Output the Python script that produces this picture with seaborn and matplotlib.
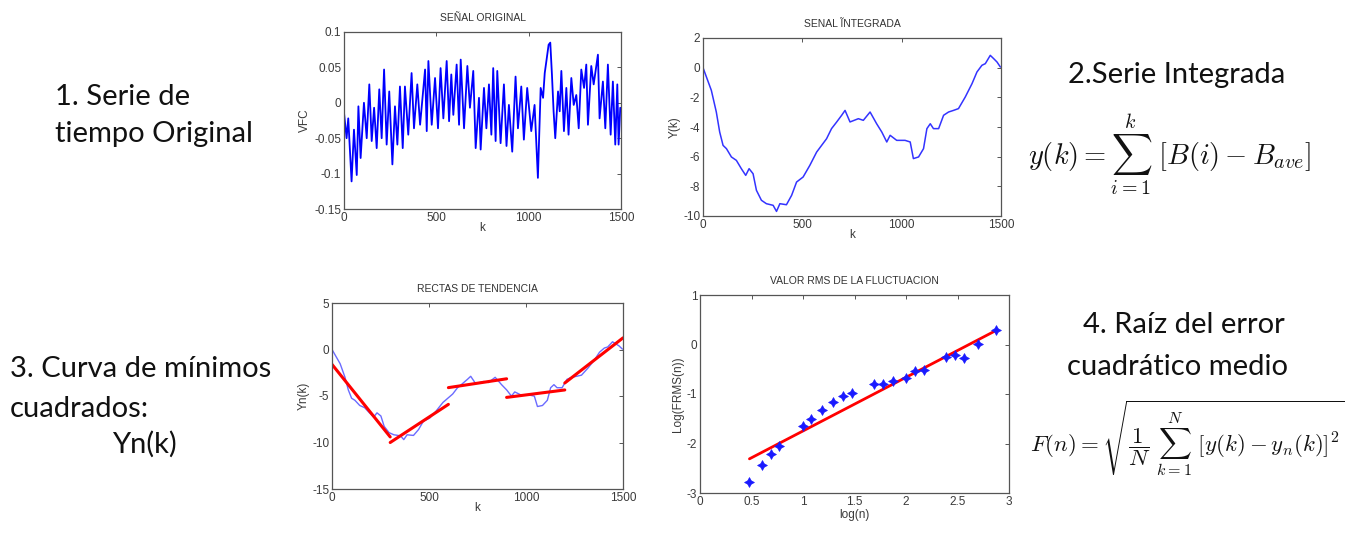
import numpy as np
import pandas as pd
import matplotlib
matplotlib.use("Agg")
import matplotlib.pyplot as plt
import seaborn as sns
from matplotlib.ticker import FuncFormatter

# ---------------- data ----------------
k_orig = [0, 14, 23, 41, 54, 69, 78, 90, 108, 123, 137, 150, 163, 177, 191, 204, 217, 231, 245, 262,
          276, 289, 303, 318, 330, 348, 366, 379, 397, 412, 439, 448, 457, 475, 493,
          509, 523, 538, 556, 569, 581, 592, 610, 623, 632, 650, 668, 682, 700, 713, 731, 740, 758,
          771, 785, 798, 808, 821, 830, 848, 866, 880, 893, 911, 929, 942, 960, 974, 992,
          1014, 1032, 1050, 1065, 1078, 1087, 1096, 1108, 1117, 1126, 1135, 1144, 1159, 1168, 1177,
          1191, 1204, 1216, 1231, 1244, 1258, 1271, 1285, 1300, 1312, 1321, 1339, 1352, 1375, 1384,
          1402, 1415, 1429, 1444, 1456, 1469, 1480, 1487, 1496]
vfc = [-0.014, -0.050, -0.022, -0.111, -0.038, -0.102, -0.005, -0.078, 0.000, -0.050, 0.026, -0.054,
       -0.007, -0.064, 0.019, -0.050, 0.047, -0.059, 0.016, -0.087, -0.005, -0.059, 0.023, -0.064,
       0.023, -0.045, 0.042, -0.036, 0.026, -0.031, 0.047, -0.040, 0.059, -0.031, 0.035,
       -0.036, 0.049, -0.022, 0.059, -0.026, 0.040, -0.017, 0.054, -0.031, 0.061, -0.036, 0.052,
       -0.007, 0.045, -0.064, 0.007, -0.066, 0.021, -0.036, 0.026, -0.045, 0.049, -0.054, 0.045,
       -0.057, 0.026, -0.061, -0.003, -0.069, 0.037, -0.036, 0.023, -0.052, 0.021,
       -0.040, -0.003, -0.106, 0.021, 0.007, 0.042, 0.059, 0.082, 0.085, 0.040, -0.012, -0.050,
       0.016, -0.012, 0.045, -0.040, 0.021, -0.045, 0.035, -0.003, 0.011, -0.036, 0.047, 0.021,
       0.054, -0.031, 0.052, 0.026, 0.068, -0.022, 0.030, -0.036, 0.054, -0.045, 0.030, -0.059,
       0.026, -0.059, -0.007]

k_int = [0, 42, 67, 84, 101, 118, 143, 168, 193, 215, 232, 252, 269, 294, 319, 353, 370, 387, 420,
         446, 471, 504, 538, 572, 622, 647, 673, 698, 715, 740, 782, 807, 841, 874, 900, 925, 942,
         975, 1017, 1043, 1059, 1085, 1110, 1127, 1144, 1160, 1186, 1211, 1236, 1261, 1286, 1320,
         1354, 1379, 1404, 1421, 1446, 1463, 1480, 1497]
y_int = [0.00, -1.53, -2.99, -4.34, -5.24, -5.46, -6.02, -6.25, -6.81, -7.26, -6.81, -7.15, -8.27,
         -8.94, -9.17, -9.28, -9.69, -9.17, -9.24, -8.61, -7.71, -7.37, -6.58, -5.69, -4.79, -4.11,
         -3.66, -3.21, -2.88, -3.66, -3.44, -3.55, -2.99, -3.78, -4.34, -5.01, -4.56, -4.90, -4.90,
         -5.01, -6.13, -6.02, -5.46, -4.11, -3.78, -4.11, -4.11, -3.21, -2.99, -2.88, -2.76, -1.98,
         -1.08, -0.29, 0.16, 0.27, 0.83, 0.61, 0.38, 0.04]

seg_k_start = [0, 300, 600, 900, 1200]
seg_k_end = [300, 600, 900, 1200, 1500]
seg_y_start = [-1.6, -10.0, -4.1, -5.15, -3.6]
seg_y_end = [-9.4, -5.9, -3.15, -4.35, 1.25]

log_n = [0.475, 0.598, 0.689, 0.770, 0.996, 1.073, 1.180, 1.293, 1.384, 1.471, 1.691, 1.778,
         1.875, 1.998, 2.085, 2.176, 2.386, 2.473, 2.564, 2.700, 2.878]
log_frms = [-2.77, -2.43, -2.21, -2.05, -1.64, -1.51, -1.32, -1.17, -1.05, -0.98, -0.80, -0.80,
            -0.73, -0.67, -0.53, -0.51, -0.26, -0.22, -0.28, 0.02, 0.29]
fit_x = [0.48, 2.88]
fit_y = [-2.31, 0.29]

# ---------------- style ----------------
sns.set_theme(style="white")
plt.rcParams['font.family'] = ['Liberation Sans', 'DejaVu Sans']
plt.rcParams['axes.unicode_minus'] = False
plt.rcParams['mathtext.fontset'] = 'cm'

W, H = 1355, 533
fig = plt.figure(figsize=(W / 100, H / 100), dpi=100)
fig.patch.set_facecolor('white')

def px_axes(x0, y0, x1, y1):
    return fig.add_axes([x0 / W, 1 - y1 / H, (x1 - x0) / W, (y1 - y0) / H])

TICK_C = '#3a3a3a'
gfmt = FuncFormatter(lambda v, p: ('%g' % round(v, 6)))

def matlab_style(ax, title, xlabel, ylabel, xlim, ylim, xticks, yticks, xlabpad=-1):
    ax.set_xlim(*xlim)
    ax.set_ylim(*ylim)
    ax.set_xticks(xticks)
    ax.set_yticks(yticks)
    ax.xaxis.set_major_formatter(gfmt)
    ax.yaxis.set_major_formatter(gfmt)
    ax.tick_params(direction='in', top=True, right=True, length=3, width=0.6,
                   labelsize=8.5, colors=TICK_C, pad=2)
    for s in ax.spines.values():
        s.set_color('#555555')
        s.set_linewidth(0.9)
    ax.set_title(title, fontsize=7.5, color='#333333', pad=8)
    ax.set_xlabel(xlabel, fontsize=8.5, color=TICK_C, labelpad=xlabpad)
    ax.set_ylabel(ylabel, fontsize=8.5, color=TICK_C, labelpad=2)
    ax.grid(False)

# ---- plot 1: original signal
ax1 = px_axes(344, 32, 621, 209)
df1 = pd.DataFrame({'k': k_orig, 'vfc': vfc})
sns.lineplot(data=df1, x='k', y='vfc', ax=ax1, color='#0000ff', linewidth=1.3)
matlab_style(ax1, 'SEÑAL ORIGINAL', 'k', 'VFC', (0, 1500), (-0.15, 0.1),
             [0, 500, 1000, 1500], [-0.15, -0.1, -0.05, 0, 0.05, 0.1])

# ---- plot 2: integrated signal
ax2 = px_axes(703, 38, 1001, 216)
df2 = pd.DataFrame({'k': k_int, 'y': y_int})
sns.lineplot(data=df2, x='k', y='y', ax=ax2, color='#3333ff', linewidth=1.1)
matlab_style(ax2, 'SENAL ĨNTEGRADA', 'k', 'Y(k)', (0, 1500), (-10, 2),
             [0, 500, 1000, 1500], [-10, -8, -6, -4, -2, 0, 2])

# ---- plot 3: trend lines
ax3 = px_axes(332, 303, 623, 489)
sns.lineplot(data=df2, x='k', y='y', ax=ax3, color='#6b6bff', linewidth=1.0)
seg_rows = []
for i in range(len(seg_k_start)):
    seg_rows.append({'seg': i, 'k': seg_k_start[i], 'y': seg_y_start[i]})
    seg_rows.append({'seg': i, 'k': seg_k_end[i], 'y': seg_y_end[i]})
df3 = pd.DataFrame(seg_rows)
sns.lineplot(data=df3, x='k', y='y', units='seg', estimator=None, ax=ax3,
             color='#ff0000', linewidth=2.2)
matlab_style(ax3, 'RECTAS DE TENDENCIA', 'k', 'Yn(k)', (0, 1500), (-15, 5),
             [0, 500, 1000, 1500], [-15, -10, -5, 0, 5])

# ---- plot 4: RMS fluctuation
ax4 = px_axes(700, 295, 1009, 493)
df4 = pd.DataFrame({'logn': log_n, 'logf': log_frms})
sns.lineplot(x=fit_x, y=fit_y, ax=ax4, color='#ff0000', linewidth=2.0)
sns.scatterplot(data=df4, x='logn', y='logf', ax=ax4, color='#1a1aff', marker=(4, 1, 0),
                s=50, edgecolor='#1a1aff', linewidth=0.5, zorder=3)
matlab_style(ax4, 'VALOR RMS DE LA FLUCTUACION', 'log(n)', 'Log(FRMS(n))', (0, 3), (-3, 1),
             [0, 0.5, 1, 1.5, 2, 2.5, 3], [-3, -2, -1, 0, 1], xlabpad=1)

# ---------------- annotations ----------------
TXT = dict(fontsize=21, color='#111111', family=['Lato', 'DejaVu Sans'], va='baseline', ha='left')
def ftext(x, y, s, **kw):
    d = dict(TXT); d.update(kw)
    fig.text(x / W, 1 - y / H, s, **d)

ftext(55, 105, '1. Serie de')
ftext(55, 142, 'tiempo Original')
ftext(1068, 83, '2.Serie Integrada')
ftext(10, 377, '3. Curva de mínimos')
ftext(10, 417, 'cuadrados:')
ftext(112, 453, 'Yn(k)')
ftext(1083, 333, '4. Raíz del error')
ftext(1067, 375, 'cuadrático medio')

fig.text(1028 / W, 1 - 155 / H, r'$y(k) = \sum_{i=1}^{k}\ [B(i) - B_{ave}]$',
         fontsize=20.5, color='#111111', va='center', ha='left')
fig.text(1030 / W, 1 - 438 / H, r'$F(n) = \sqrt{\dfrac{1}{N}\ \sum_{k=1}^{N}\ [y(k) - y_n(k)]^2}$',
         fontsize=16.5, color='#111111', va='center', ha='left')

fig.savefig('out.png', dpi=100, facecolor='white')
